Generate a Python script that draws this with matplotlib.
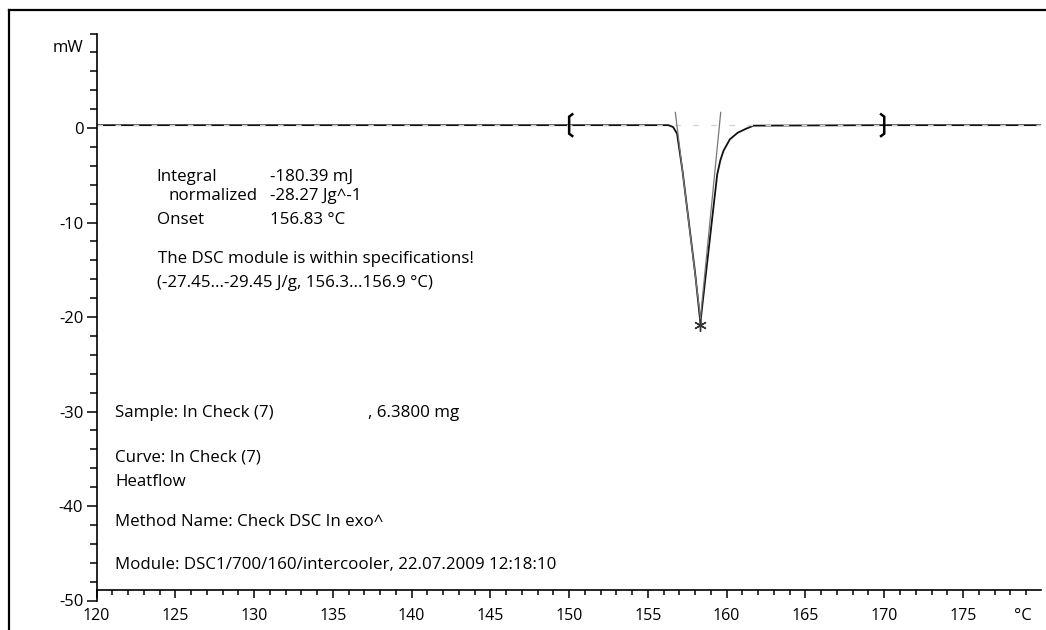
import numpy as np
import matplotlib.pyplot as plt
from matplotlib.lines import Line2D
from matplotlib.ticker import MultipleLocator

plt.rcParams['font.family'] = ['Open Sans', 'DejaVu Sans']

# DSC heat flow curve, temperature in deg C, heat flow in mW
temperature = [120, 130, 140, 150, 156.3, 156.6, 156.85, 157.2, 157.6, 158.0, 158.33,
               158.6, 158.9, 159.2, 159.4, 159.6, 159.8, 160.2, 160.7, 161.2, 161.7, 170, 180]
heat_flow = [0.3, 0.3, 0.3, 0.3, 0.3, 0.1, -0.6, -4.6, -10.0, -15.4, -20.6,
             -16.6, -12.2, -7.8, -4.9, -3.4, -2.4, -1.2, -0.5, -0.1, 0.25, 0.3, 0.3]

# onset construction lines
left_tangent_T = [156.74, 158.40]
left_tangent_hf = [1.65, -21.0]
right_tangent_T = [159.62, 158.28]
right_tangent_hf = [1.65, -21.0]
peak_T = [158.32]
peak_hf = [-20.8]

# integration limits
limit_T = [150, 170]

x_major = [120, 125, 130, 135, 140, 145, 150, 155, 160, 165, 170, 175]
y_major = [-50, -40, -30, -20, -10, 0]

W, H = 1046, 630


def px(x, y):
    return x / W, 1 - y / H


fig = plt.figure(figsize=(W / 100, H / 100), dpi=100)

# outer frame (left and top edges only visible)
fig.add_artist(Line2D([9 / W, 9 / W], [0, 1 - 10 / H], transform=fig.transFigure,
                      color="black", lw=1.6))
fig.add_artist(Line2D([9 / W, 1], [1 - 10 / H, 1 - 10 / H], transform=fig.transFigure,
                      color="black", lw=1.6))

x0, y0 = px(96.5, 600.5)
x1, y1 = px(1041, 33.5)
ax = fig.add_axes([x0, y0, x1 - x0, y1 - y0])

ax.plot(temperature, heat_flow, color="#111111", lw=1.3)
ax.plot([120, 180], [0.3, 0.3], color="#d5d5d5", lw=1.0, dashes=(4, 9))
ax.plot(left_tangent_T, left_tangent_hf, color="#777777", lw=0.9)
ax.plot(right_tangent_T, right_tangent_hf, color="#777777", lw=0.9)
ax.plot(peak_T, peak_hf, marker=(6, 2, 0), ms=9, color="#333333", mew=1.0, ls="none")

# bracket-shaped limit markers: left one opens right, right one opens left
for t, d in zip(limit_T, [0.2, -0.2]):
    ax.plot([t + d, t, t, t + d], [1.45, 1.2, -0.6, -0.85], color="black", lw=1.8,
            solid_joinstyle="miter")

ax.set_xlim(120, 179.95)
ax.set_ylim(-50, 10)

for s in ["top", "right"]:
    ax.spines[s].set_visible(False)
ax.spines["bottom"].set_position(("data", -48.9))
ax.spines["left"].set_linewidth(1.2)
ax.spines["bottom"].set_linewidth(1.2)

ax.set_xticks(x_major)
ax.set_xticklabels([str(v) for v in x_major])
ax.xaxis.set_minor_locator(MultipleLocator(1))
ax.set_yticks(y_major)
ax.set_yticklabels([str(v) for v in y_major])
ax.yaxis.set_minor_locator(MultipleLocator(2))

ax.tick_params(axis="x", which="major", length=6, width=1.1, pad=7, labelsize=11.5)
ax.tick_params(axis="x", which="minor", length=3.8, width=1.1)
ax.tick_params(axis="y", which="major", length=7.5, width=1.1, pad=2, labelsize=12)
ax.tick_params(axis="y", which="minor", length=5, width=1.1)

fig.text(*px(83, 48), "mW", ha="right", va="center", fontsize=12)
fig.text(*px(1032, 616), "\u00b0C", ha="right", va="center", fontsize=12)

txt = dict(fontsize=12.2, va="baseline", ha="left")
fig.text(*px(156.7, 180.7), "Integral", **txt)
fig.text(*px(168.3, 200), "normalized", **txt)
fig.text(*px(156.7, 224), "Onset", **txt)
fig.text(*px(270, 180.7), "-180.39 mJ", **txt)
fig.text(*px(270, 200), "-28.27 Jg^-1", **txt)
fig.text(*px(270, 224), "156.83 \u00b0C", **txt)
fig.text(*px(158.3, 262.7), "The DSC module is within specifications!", **txt)
fig.text(*px(156.7, 286.7), "(-27.45...-29.45 J/g, 156.3...156.9 \u00b0C)", **txt)

fig.text(*px(115, 416.7), "Sample: In Check (7)", **txt)
fig.text(*px(368, 416.7), ", 6.3800 mg", **txt)
fig.text(*px(115, 462), "Curve: In Check (7)", **txt)
fig.text(*px(115, 486), "Heatflow", **txt)
fig.text(*px(115, 526), "Method Name: Check DSC In exo^", **txt)
fig.text(*px(115, 569), "Module: DSC1/700/160/intercooler, 22.07.2009 12:18:10", **txt)

fig.savefig("out.png", dpi=100)
